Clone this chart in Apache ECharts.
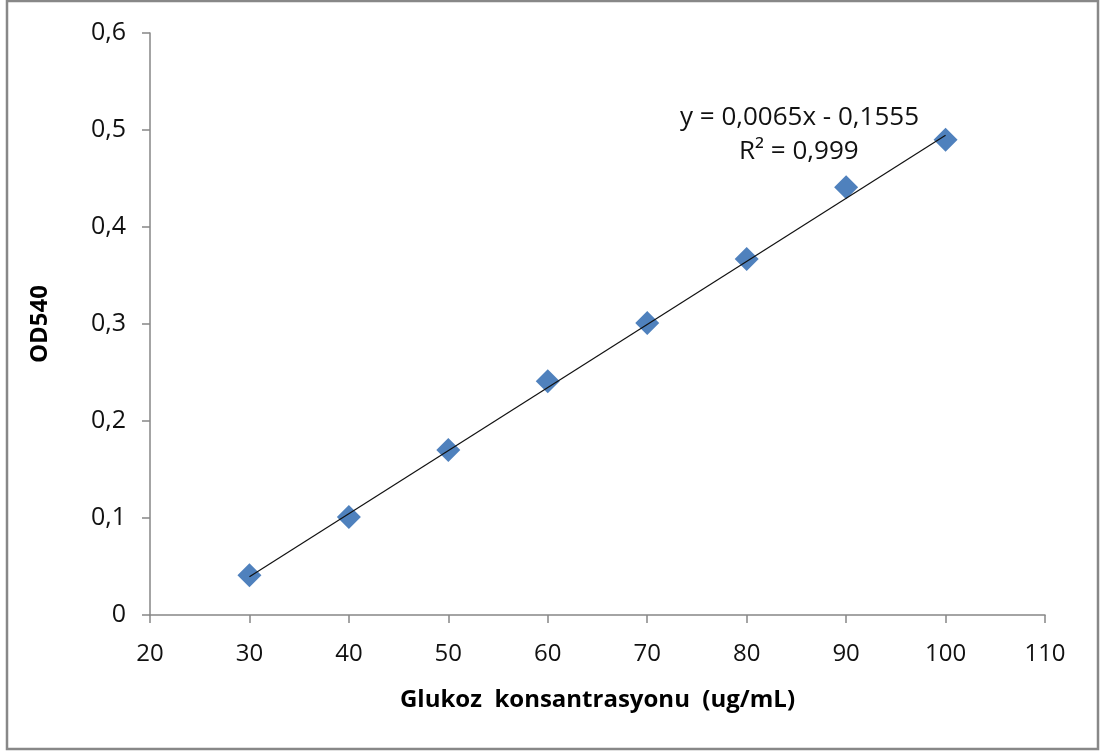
<!DOCTYPE html>
<html>
<head>
  <meta charset="utf-8">
  <title>OD540</title>
  <script src="https://cdn.jsdelivr.net/npm/echarts@6/dist/echarts.min.js"></script>
  <style>
    html, body { margin: 0; padding: 0; background: #fff; }
    #chart { width: 1104px; height: 753px; }
  </style>
</head>
<body>
  <div id="chart"></div>
  <script>
    // glukoz konsantrasyonu (ug/mL) ve OD540 degerleri
    const concentrations = [30, 40, 50, 60, 70, 80, 90, 100];
    const od540 = [0.041, 0.101, 0.170, 0.241, 0.301, 0.367, 0.441, 0.490];
    // dogrusal trend: y = 0,0065x - 0,1555
    const slope = 0.0065;
    const intercept = -0.1555;
    const trendX = [30, 100];

    const points = concentrations.map((x, i) => [x, od540[i]]);
    const trend = trendX.map(x => [x, slope * x + intercept]);

    const font = '"Open Sans", "Liberation Sans", sans-serif';
    const axisGray = '#868686';

    const chart = echarts.init(document.getElementById('chart'));
    chart.setOption({
      animation: false,
      backgroundColor: '#fff',
      textStyle: { fontFamily: font },
      grid: { left: 150, right: 59, top: 33, bottom: 138 },
      xAxis: {
        type: 'value',
        min: 20, max: 110, interval: 10,
        name: 'Glukoz  konsantrasyonu  (ug/mL)',
        nameLocation: 'middle',
        nameGap: 73,
        nameTextStyle: { fontSize: 24, fontWeight: 'bold', color: '#000', fontFamily: font },
        axisLine: { lineStyle: { color: axisGray, width: 1.5 } },
        axisTick: { length: 8, lineStyle: { color: axisGray, width: 1.5 } },
        axisLabel: { fontSize: 24, color: '#111', margin: 27, fontFamily: font },
        splitLine: { show: false }
      },
      yAxis: {
        type: 'value',
        min: 0, max: 0.6, interval: 0.1,
        name: 'OD540',
        nameLocation: 'middle',
        nameGap: 98,
        nameTextStyle: { fontSize: 24, fontWeight: 'bold', color: '#000', fontFamily: font },
        axisLine: { show: true, lineStyle: { color: axisGray, width: 1.5 } },
        axisTick: { show: true, length: 8, lineStyle: { color: axisGray, width: 1.5 } },
        axisLabel: {
          fontSize: 25, color: '#111', margin: 24, fontFamily: font,
          formatter: v => v === 0 ? '0' : v.toFixed(1).replace('.', ',')
        },
        splitLine: { show: false }
      },
      series: [
        {
          type: 'line',
          data: trend,
          symbol: 'none',
          lineStyle: { color: '#111', width: 1.2 },
          z: 3
        },
        {
          type: 'scatter',
          data: points,
          symbol: 'diamond',
          symbolSize: [24, 24],
          itemStyle: { color: '#4F81BD', opacity: 1 },
          z: 2
        }
      ],
      graphic: [
        {
          type: 'rect',
          shape: { x: 7, y: 1, width: 1091, height: 748 },
          style: { fill: 'none', stroke: '#888', lineWidth: 2.5 },
          silent: true
        },
        {
          type: 'text',
          left: 680, top: 105,
          style: { text: 'y = 0,0065x - 0,1555', fontSize: 26, fill: '#111', fontFamily: font }
        },
        {
          type: 'text',
          left: 739, top: 139,
          style: { text: 'R² = 0,999', fontSize: 26, fill: '#111', fontFamily: font }
        }
      ]
    });
  </script>
</body>
</html>
